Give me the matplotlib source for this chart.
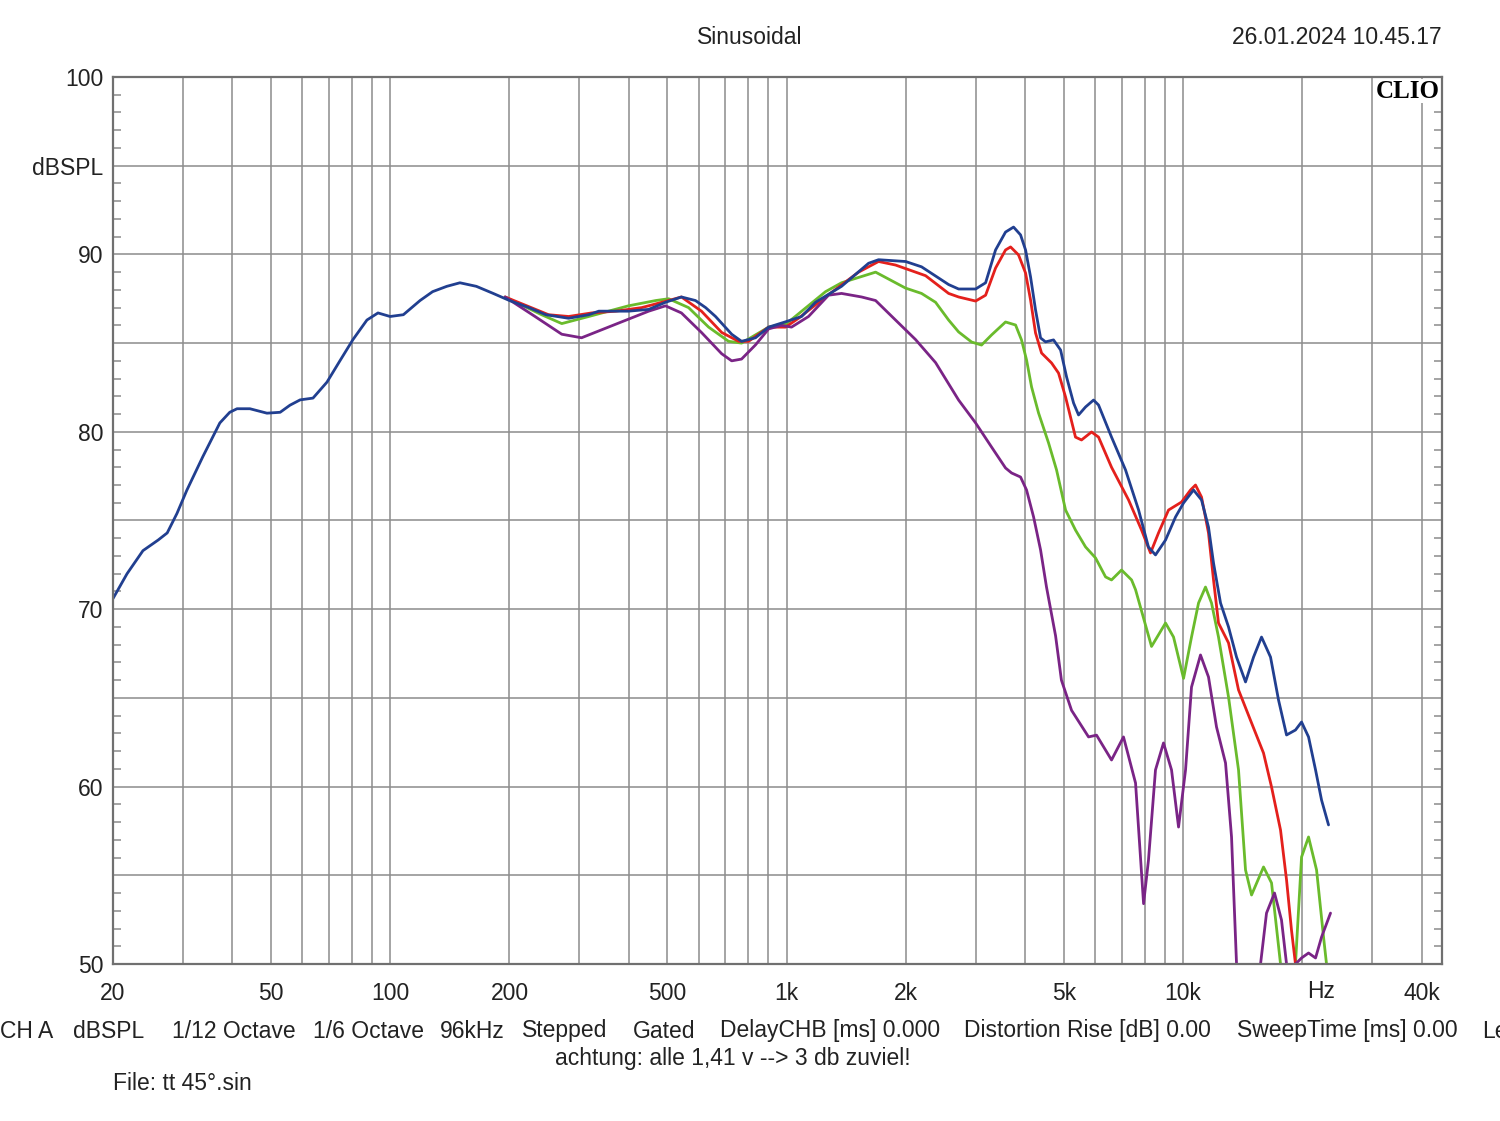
import matplotlib
matplotlib.use("Agg")
import matplotlib.pyplot as plt
from matplotlib.ticker import MultipleLocator, NullLocator

# ---------------- data (frequency in Hz, level in dBSPL) ----------------
blue_f = [20, 21.7, 23.8, 26.0, 27.4, 29.0, 30.7, 33.7, 37.2, 39.4, 41.1, 44.3, 48.9, 52.8, 55.9,
          59.3, 63.9, 69.3, 74.7, 80.6, 87.4, 93.2, 100, 108, 119, 128, 139, 150, 165, 182,
          200, 224, 247, 282, 317, 336, 399, 449, 495, 543, 589, 625, 662, 727, 770, 835, 901,
          994, 1091, 1183, 1376, 1610, 1706, 1996, 2190, 2563, 2716, 2998, 3177, 3366, 3567,
          3737, 3892, 4007, 4125, 4246, 4372, 4500, 4714, 4911, 5085, 5296, 5451, 5677, 5947,
          6122, 6602, 7161, 7723, 8182, 8522, 9034, 9574, 10030, 10629, 11134, 11594, 11938,
          12433, 13024, 13645, 14376, 15061, 15776, 16623, 17414, 18243, 19215, 19905, 20729,
          21591, 22357, 23281]
blue_db = [70.6, 72.0, 73.3, 73.9, 74.3, 75.4, 76.7, 78.6, 80.5, 81.1, 81.3, 81.3, 81.05, 81.1, 81.5,
           81.8, 81.9, 82.8, 84.0, 85.2, 86.3, 86.7, 86.5, 86.6, 87.4, 87.9, 88.2, 88.4, 88.2, 87.8,
           87.4, 87.0, 86.6, 86.4, 86.6, 86.8, 86.8, 86.9, 87.3, 87.6, 87.4, 87.0, 86.5, 85.5, 85.1, 85.3, 85.9,
           86.2, 86.5, 87.3, 88.2, 89.5, 89.7, 89.6, 89.3, 88.3, 88.05, 88.05, 88.4, 90.25, 91.26,
           91.54, 91.1, 90.25, 88.73, 86.87, 85.29, 85.07, 85.18, 84.61, 83.09, 81.62, 80.95, 81.4, 81.79,
           81.51, 79.7, 77.85, 75.6, 73.5, 73.06, 73.9, 75.2, 75.99, 76.72, 76.16, 74.63, 72.6,
           70.35, 69.0, 67.3, 65.9, 67.3, 68.43, 67.3, 64.88, 62.91, 63.19, 63.64, 62.8,
           60.94, 59.24, 57.84]

red_f = [195, 227, 251, 282, 322, 371, 431, 504, 543, 610, 686, 757, 802, 901, 994, 1072,
         1254, 1519, 1706, 1883, 1996, 2242, 2563, 2716, 2998, 3177, 3366, 3567, 3673, 3847,
         4007, 4125, 4246, 4397, 4660, 4853, 5055, 5355, 5546, 5878, 6122, 6602, 7288, 7860,
         8279, 8673, 9192, 9913, 10445, 10752, 11134, 11594, 11938, 12288, 13024, 13803,
         14888, 15960, 16720, 17617, 18243, 18773, 19215, 19600]
red_db = [87.6, 87.0, 86.6, 86.5, 86.7, 86.8, 87.0, 87.4, 87.6, 86.8, 85.6, 85.1, 85.1, 85.9, 85.9, 86.4,
          87.6, 89.0, 89.6, 89.4, 89.2, 88.8, 87.8, 87.6, 87.37, 87.7, 89.23, 90.25, 90.42, 89.97,
          88.95, 87.43, 85.57, 84.44, 83.88, 83.31, 81.96, 79.7, 79.54, 79.99, 79.7, 78.0, 76.16, 74.46,
          73.17, 74.3, 75.59, 76.04, 76.72, 77.0, 76.32, 74.3, 71.65, 69.22, 68.1, 65.45,
          63.59, 61.89, 59.98, 57.55, 54.74, 51.92, 50.0, 46.0]

green_f = [195, 241, 271, 317, 399, 468, 504, 566, 636, 714, 770, 901, 1000, 1254, 1376, 1519,
           1677, 1996, 2190, 2376, 2563, 2716, 2929, 3103, 3289, 3567, 3781, 3915, 4030, 4149,
           4321, 4580, 4797, 5055, 5355, 5677, 6016, 6377, 6602, 6997, 7417, 7590, 8328, 9034,
           9464, 10030, 10505, 10943, 11394, 11800, 12288, 13024, 13803, 14376, 14888, 15960,
           16720, 17617, 18200, 18700, 19215, 19905, 20729, 21718, 22616, 23010, 23300]
green_db = [87.6, 86.6, 86.1, 86.5, 87.1, 87.4, 87.5, 87.0, 85.9, 85.1, 85.0, 85.9, 86.1, 87.9, 88.4, 88.7,
            89.0, 88.1, 87.8, 87.3, 86.3, 85.63, 85.06, 84.89, 85.46, 86.19, 86.02, 85.17, 84.05, 82.53,
            81.06, 79.37, 77.85, 75.59, 74.46, 73.51, 72.89, 71.82, 71.65, 72.21, 71.65, 71.1, 67.9, 69.22,
            68.43, 66.1, 68.43, 70.35, 71.25, 70.35, 68.43, 65.05, 60.94, 55.3, 53.89, 55.47,
            54.57, 50.0, 46.0, 46.0, 50.0, 56.03, 57.16, 55.3, 51.52, 50.0, 48.0]

purple_f = [195, 232, 271, 304, 384, 449, 495, 543, 610, 686, 727, 770, 835, 901, 971, 1029,
            1136, 1276, 1376, 1546, 1677, 1883, 2115, 2376, 2716, 2998, 3289, 3567, 3694, 3892,
            4030, 4198, 4372, 4525, 4770, 4935, 5234, 5777, 6051, 6602, 7077, 7590, 7952, 8182,
            8522, 8928, 9354, 9743, 10147, 10505, 11068, 11594, 12147, 12800, 13254, 13645,
            14100, 15200, 15686, 16240, 17012, 17716, 18243, 18700, 19215, 19905, 20729, 21591,
            22357, 23552]
purple_db = [87.6, 86.5, 85.5, 85.3, 86.2, 86.8, 87.1, 86.7, 85.6, 84.4, 84.0, 84.1, 84.9, 85.8, 86.0, 85.9,
             86.5, 87.7, 87.8, 87.6, 87.4, 86.3, 85.2, 83.9, 81.79, 80.5, 79.14, 77.96, 77.68, 77.45,
             76.72, 75.2, 73.34, 71.25, 68.5, 66.0, 64.3, 62.8, 62.9, 61.5, 62.8, 60.2, 53.4, 55.86,
             60.94, 62.46, 60.94, 57.72, 60.94, 65.61, 67.42, 66.18, 63.36, 61.33, 57.16, 50.0,
             44.0, 44.0, 50.0, 52.87, 54.0, 52.48, 50.0, 47.0, 50.0, 50.34, 50.62, 50.34,
             51.52, 52.87]

grid_freqs = [20, 30, 40, 50, 60, 70, 80, 90, 100, 200, 300, 400, 500, 600, 700, 800, 900,
              1000, 2000, 3000, 4000, 5000, 6000, 7000, 8000, 9000, 10000, 20000, 30000, 40000]
xlabels = {20: "20", 50: "50", 100: "100", 200: "200", 500: "500", 1000: "1k", 2000: "2k",
           5000: "5k", 10000: "10k", 40000: "40k"}
ylevels = [50, 55, 60, 65, 70, 75, 80, 85, 90, 95, 100]
ylabels = ["50", "", "60", "", "70", "", "80", "", "90", "dBSPL", "100"]

footer_items = [("CH A", 0), ("dBSPL", 73), ("1/12 Octave", 172), ("1/6 Octave", 313),
                ("96kHz", 440), ("Stepped", 522), ("Gated", 633), ("DelayCHB [ms] 0.000", 720),
                ("Distortion Rise [dB] 0.00", 964), ("SweepTime [ms] 0.00", 1237), ("Le", 1482)]

# ---------------- figure ----------------
plt.rcParams['font.family'] = ['Liberation Sans', 'DejaVu Sans']
W, H = 1500, 1121
fig = plt.figure(figsize=(W / 100, H / 100), dpi=100)
ax = fig.add_axes([113 / W, 1 - 964 / H, (1442 - 113) / W, (964 - 77) / H])
ax.set_xscale('log')
ax.set_xlim(20, 45000)
ax.set_ylim(50, 100)

gridc = '#8c8c8c'
txtc = '#222222'
ax.set_xticks(grid_freqs)
ax.set_xticklabels([xlabels.get(f, "") for f in grid_freqs])
ax.xaxis.set_minor_locator(NullLocator())
ax.set_yticks(ylevels)
ax.set_yticklabels(ylabels)
ax.yaxis.set_minor_locator(MultipleLocator(1))
ax.grid(True, which='major', color=gridc, linewidth=1.1)
ax.tick_params(axis='both', which='major', length=0, labelsize=16.5, labelcolor=txtc)
ax.tick_params(axis='x', which='major', pad=13)
ax.tick_params(axis='y', which='major', pad=7)
ax.tick_params(axis='y', which='minor', direction='in', length=6, width=1.1,
               color=gridc, left=True, right=True)
for s in ax.spines.values():
    s.set_color('#707070')
    s.set_linewidth(1.6)
    s.set_zorder(11)

lw = 2.0
kw = dict(lw=lw, solid_joinstyle='round', solid_capstyle='round')
ax.plot(green_f, green_db, color='#6abb2c', zorder=3, **kw)
ax.plot(red_f, red_db, color='#e4201c', zorder=4, **kw)
ax.plot(purple_f, purple_db, color='#7a2486', zorder=5, **kw)
ax.plot(blue_f, blue_db, color='#213f90', zorder=6, **kw)

ax.text(0.9985, 0.984, "CLIO", transform=ax.transAxes, ha='right', va='center',
        fontfamily='Liberation Serif', fontweight='bold', fontsize=18, color='black',
        zorder=10, bbox=dict(facecolor='white', edgecolor='none', pad=0.3))

def ftext(x, y, s, ha='left'):
    fig.text(x / W, 1 - y / H, s, ha=ha, va='center', fontsize=16.5, color=txtc)

ftext(750, 38, "Sinusoidal", ha='center')
ftext(1442, 38, "26.01.2024 10.45.17", ha='right')
ftext(1321, 992, "Hz", ha='center')
for s, x in footer_items:
    ftext(x, 1031, s)
ftext(733, 1058, "achtung: alle 1,41 v --> 3 db zuviel!", ha='center')
ftext(113, 1084, "File: tt 45°.sin")

fig.savefig("out.png", dpi=100, facecolor='white')
